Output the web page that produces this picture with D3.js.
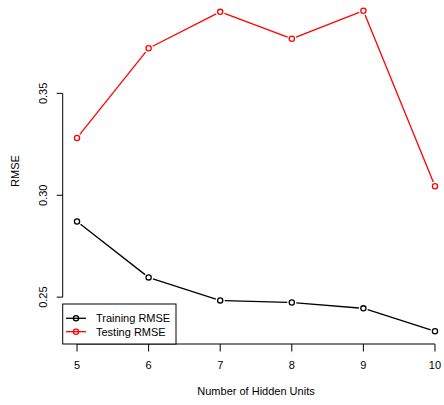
<!DOCTYPE html>
<html>
<head>
<meta charset="utf-8">
<script src="https://cdn.jsdelivr.net/npm/d3@7"></script>
<style>
  body { margin: 0; background: #fff; }
  text { font-family: "Liberation Sans", Arial, sans-serif; }
</style>
</head>
<body>
<script>
// RMSE vs hidden units, R base-graphics look
const hiddenUnits = [5, 6, 7, 8, 9, 10];
const trainingRMSE = [0.2871, 0.2597, 0.2484, 0.2474, 0.2445, 0.2333];
const testingRMSE = [0.3281, 0.3721, 0.3900, 0.3768, 0.3905, 0.3044];
const yTicks = [0.25, 0.30, 0.35];
const seriesNames = ["Training RMSE", "Testing RMSE"];
const seriesColors = ["#000000", "#ff0000"];

const width = 444, height = 405;
const svg = d3.select("body").append("svg")
  .attr("width", width)
  .attr("height", height);

// R pads the data range by 4% on each side
const allY = trainingRMSE.concat(testingRMSE);
const yMin = d3.min(allY), yMax = d3.max(allY);
const yPad = (yMax - yMin) * 0.04;
const xPad = (d3.max(hiddenUnits) - d3.min(hiddenUnits)) * 0.04;

const left = 62.7, bottom = 344;
const x = d3.scaleLinear()
  .domain([d3.min(hiddenUnits) - xPad, d3.max(hiddenUnits) + xPad])
  .range([left, 449.3]);
const y = d3.scaleLinear()
  .domain([yMin - yPad, yMax + yPad])
  .range([bottom, -2]);

// x axis (line spans first to last tick)
const xAxis = svg.append("g");
xAxis.append("line")
  .attr("x1", x(5)).attr("x2", x(10))
  .attr("y1", bottom).attr("y2", bottom)
  .attr("stroke", "#000");
hiddenUnits.forEach(v => {
  xAxis.append("line")
    .attr("x1", x(v)).attr("x2", x(v))
    .attr("y1", bottom).attr("y2", bottom + 7.5)
    .attr("stroke", "#000");
  xAxis.append("text")
    .attr("x", x(v)).attr("y", 369)
    .attr("text-anchor", "middle")
    .attr("font-size", "11px")
    .text(v);
});

// y axis
const yAxis = svg.append("g");
yAxis.append("line")
  .attr("x1", left).attr("x2", left)
  .attr("y1", y(yTicks[0])).attr("y2", y(yTicks[yTicks.length - 1]))
  .attr("stroke", "#000");
yTicks.forEach(v => {
  yAxis.append("line")
    .attr("x1", left - 6).attr("x2", left)
    .attr("y1", y(v)).attr("y2", y(v))
    .attr("stroke", "#000");
  yAxis.append("text")
    .attr("transform", `translate(46.5,${y(v)}) rotate(-90)`)
    .attr("text-anchor", "middle")
    .attr("font-size", "11px")
    .text(v.toFixed(2));
});

// axis titles
svg.append("text")
  .attr("x", (x.range()[0] + x.range()[1]) / 2)
  .attr("y", 395)
  .attr("text-anchor", "middle")
  .attr("font-size", "11px")
  .text("Number of Hidden Units");
svg.append("text")
  .attr("transform", `translate(19,${(y.range()[0] + y.range()[1]) / 2}) rotate(-90)`)
  .attr("text-anchor", "middle")
  .attr("font-size", "11px")
  .text("RMSE");

// type="b" lines: segments with gaps round the points
const gap = 4.5;
function drawSeries(values, color) {
  const pts = hiddenUnits.map((u, i) => [x(u), y(values[i])]);
  const g = svg.append("g");
  for (let i = 0; i < pts.length - 1; i++) {
    const [x0, y0] = pts[i], [x1, y1] = pts[i + 1];
    const len = Math.hypot(x1 - x0, y1 - y0);
    const dx = (x1 - x0) / len, dy = (y1 - y0) / len;
    g.append("line")
      .attr("x1", x0 + dx * gap).attr("y1", y0 + dy * gap)
      .attr("x2", x1 - dx * gap).attr("y2", y1 - dy * gap)
      .attr("stroke", color)
      .attr("stroke-width", 1.3);
  }
  g.selectAll("circle")
    .data(pts)
    .join("circle")
    .attr("cx", d => d[0]).attr("cy", d => d[1])
    .attr("r", 2.6)
    .attr("fill", "none")
    .attr("stroke", color)
    .attr("stroke-width", 1.3);
}
drawSeries(trainingRMSE, seriesColors[0]);
drawSeries(testingRMSE, seriesColors[1]);

// legend, bottom-left
const legend = svg.append("g");
legend.append("rect")
  .attr("x", left).attr("y", 304)
  .attr("width", 113.3).attr("height", bottom - 304)
  .attr("fill", "#fff")
  .attr("stroke", "#000");
seriesNames.forEach((name, i) => {
  const ly = 318.3 + i * 13.4;
  legend.append("line")
    .attr("x1", 66).attr("x2", 86)
    .attr("y1", ly).attr("y2", ly)
    .attr("stroke", seriesColors[i])
    .attr("stroke-width", 1.3);
  legend.append("circle")
    .attr("cx", 76).attr("cy", ly)
    .attr("r", 2.6)
    .attr("fill", "none")
    .attr("stroke", seriesColors[i])
    .attr("stroke-width", 1.3);
  legend.append("text")
    .attr("x", 96).attr("y", ly + 4)
    .attr("font-size", "11px")
    .text(name);
});
</script>
</body>
</html>
